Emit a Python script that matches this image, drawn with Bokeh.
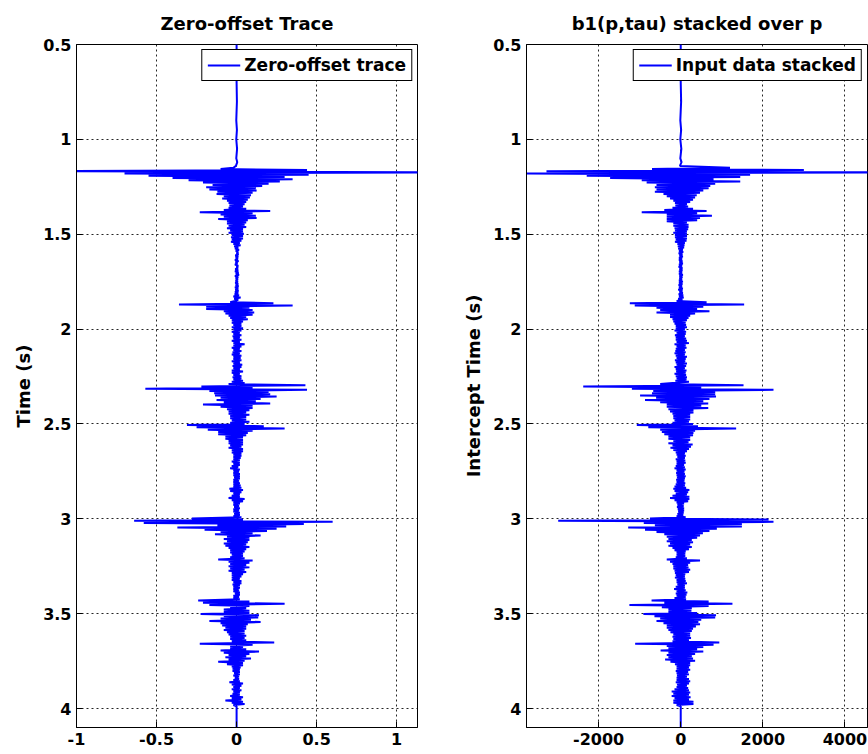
import numpy as np
from bokeh.plotting import figure
from bokeh.layouts import row
from bokeh.models import Range1d, FixedTicker, Legend, LegendItem
from bokeh.embed import file_html
from bokeh.resources import INLINE

# ---------------- data ----------------
SAMPLE_START = 1.150   # s, first sample of the listed amplitudes
SAMPLE_STEP = 0.006    # s, sampling interval

LEAD_TIME = [0.50, 0.70, 0.80, 0.90, 0.95, 1.00, 1.05, 1.10, 1.12, 1.14]
LEFT_LEAD = [0.0, 0.0, 0.002, -0.002, 0.002, -0.002, 0.003, -0.002, 0.004, -0.004]
RIGHT_LEAD = [0, 0, 10, -10, 10, -10, 15, -10, 20, -20]
TAIL_TIME = [4.10]
LEFT_TAIL = [0.0]
RIGHT_TAIL = [0]

LEFT_AMP = [
    -0.02, -0.10, 0.44, -1.20, 1.30, -0.70, 0.45, -0.55, 0.30, -0.40,
    0.35, -0.30, 0.27, -0.21, 0.20, -0.15, 0.16, -0.19, 0.12, -0.17,
    0.125, -0.12, 0.10, -0.125, 0.09, -0.08, 0.083, -0.09, 0.07, -0.06,
    0.06, -0.05, 0.05, -0.045, 0.04, -0.05, 0.06, -0.08, 0.21, -0.23,
    0.10, -0.10, 0.12, -0.08, 0.125, -0.115, 0.07, -0.06, 0.06, -0.06,
    0.05, -0.05, 0.06, -0.06, 0.04, -0.04, 0.04, -0.05, 0.045, -0.03,
    0.04, -0.035, 0.04, -0.03, 0.03, -0.035, 0.02, -0.02, 0.025, -0.015,
    0.01, -0.01, 0.015, -0.005, 0.01, 0.0, 0.012, -0.008, 0.01, -0.005,
    0.008, -0.01, 0.012, -0.006, 0.005, -0.01, 0.01, 0.0, 0.008, -0.008,
    0.01, -0.01, 0.012, -0.005, 0.015, -0.01, 0.01, -0.005, 0.008, -0.006,
    0.008, -0.008, 0.01, -0.006, 0.012, -0.01, 0.01, -0.008, 0.012, -0.01,
    0.01, -0.012, 0.015, -0.02, 0.025, -0.015, 0.01, -0.01, -0.04, 0.23,
    -0.36, 0.35, -0.19, 0.08, -0.19, 0.10, -0.08, 0.11, -0.07, 0.10,
    -0.05, 0.06, -0.04, 0.07, -0.03, 0.04, -0.03, 0.03, -0.02, 0.03,
    -0.03, 0.04, -0.02, 0.03, -0.03, 0.02, -0.02, 0.03, -0.025, 0.02,
    -0.02, 0.03, -0.03, 0.02, -0.02, 0.05, -0.02, 0.03, -0.03, 0.02,
    -0.02, 0.03, -0.025, 0.02, -0.03, 0.03, -0.02, 0.025, -0.02, 0.03,
    -0.03, 0.02, -0.02, 0.035, -0.025, 0.03, -0.02, 0.02, -0.03, 0.04,
    -0.03, 0.02, -0.02, 0.03, -0.025, 0.03, -0.02, 0.04, -0.03, 0.05,
    -0.05, 0.43, -0.22, 0.10, -0.57, 0.44, -0.17, 0.20, -0.14, 0.21,
    -0.135, 0.25, -0.10, 0.15, -0.125, 0.12, -0.08, 0.21, -0.21, 0.10,
    -0.10, 0.10, -0.06, 0.08, -0.05, 0.06, -0.05, 0.08, -0.04, 0.06,
    -0.04, 0.06, -0.03, 0.08, -0.04, 0.05, -0.31, 0.17, -0.25, 0.30,
    -0.18, 0.10, -0.115, 0.07, -0.115, 0.06, -0.07, 0.04, -0.07, 0.04,
    -0.05, 0.04, -0.05, 0.04, -0.04, 0.03, -0.05, 0.04, -0.03, 0.04,
    -0.03, 0.03, -0.02, 0.03, -0.02, 0.025, -0.02, 0.02, -0.03, 0.02,
    -0.02, 0.02, -0.03, 0.01, -0.04, 0.02, -0.02, 0.015, -0.02, 0.02,
    -0.02, 0.02, -0.015, 0.02, -0.02, 0.015, -0.02, 0.02, -0.02, 0.025,
    -0.02, 0.03, -0.045, 0.04, -0.04, 0.03, -0.02, 0.02, -0.03, 0.02,
    -0.05, 0.05, -0.03, 0.04, -0.02, 0.02, -0.02, 0.015, -0.015, 0.02,
    -0.02, 0.015, -0.02, 0.02, -0.015, 0.02, -0.02, 0.03, -0.28, 0.04,
    -0.64, 0.60, -0.58, 0.42, -0.12, 0.31, -0.37, 0.25, -0.20, 0.19,
    -0.10, 0.10, -0.135, 0.15, -0.06, 0.08, -0.08, 0.08, -0.06, 0.07,
    -0.08, 0.06, -0.07, 0.08, -0.05, 0.06, -0.04, 0.05, -0.04, 0.04,
    -0.03, 0.04, -0.04, 0.05, -0.115, 0.10, -0.05, 0.08, -0.04, 0.06,
    -0.05, 0.08, -0.04, 0.05, -0.05, 0.06, -0.03, 0.04, -0.03, 0.03,
    -0.03, 0.02, -0.03, 0.03, -0.02, 0.03, -0.025, 0.02, -0.02, 0.02,
    -0.02, 0.015, -0.02, 0.02, -0.01, 0.02, -0.02, 0.015, -0.02, 0.02,
    -0.24, 0.08, -0.21, 0.30, -0.17, 0.08, -0.04, 0.06, -0.08, 0.08,
    -0.08, 0.08, -0.225, 0.14, -0.08, 0.135, -0.10, 0.09, -0.17, 0.15,
    -0.10, 0.07, -0.09, 0.06, -0.07, 0.06, -0.08, 0.05, -0.06, 0.05,
    -0.05, 0.06, -0.04, 0.05, -0.04, 0.06, -0.03, 0.235, -0.23, 0.10,
    -0.04, 0.04, -0.04, 0.06, -0.10, 0.14, -0.08, 0.08, -0.05, 0.06,
    -0.07, 0.09, -0.05, 0.05, -0.115, 0.04, -0.06, 0.04, -0.03, 0.025,
    -0.025, 0.02, -0.025, 0.02, -0.015, 0.02, -0.02, 0.015, -0.01, 0.015,
    -0.02, 0.02, -0.045, 0.04, -0.03, 0.03, -0.02, 0.02, -0.03, 0.03,
    -0.02, 0.02, -0.025, 0.02, -0.04, 0.04, -0.03, 0.03, -0.07, 0.04,
    -0.03, 0.05, -0.02, 0.0, 0.0, 0.0, 0.0, 0.0, 0.0, 0.0,
]

RIGHT_AMP = [
    1200, -700, 3000, -3270, 4800, -3900, 1690, -2290, 1450, -1720,
    800, -950, 1450, -830, 840, -590, 720, -630, 680, -590,
    550, -630, 470, -420, 390, -340, 350, -260, 300, -180,
    230, -140, 150, -130, 180, -200, 300, -400, 630, -950,
    400, -340, 760, -340, 470, -340, 400, -340, 150, -180,
    190, -180, 190, -150, 180, -140, 150, -180, 150, -140,
    150, -140, 150, -120, 140, -140, 100, -80, 90, -70,
    80, -60, 50, -40, 60, -50, 40, -30, 50, -40,
    30, -40, 40, -30, 50, -40, 30, -50, 40, -30,
    40, -40, 30, -40, 50, -30, 40, -30, 30, -40,
    50, -40, 40, -50, 30, -40, 50, -60, 40, -30,
    50, -50, 60, -40, 70, -60, 40, -100, 630, -1240,
    1545, -1120, 550, -590, 400, -500, 700, -590, 350, -260,
    230, -260, 190, -200, 150, -180, 120, -150, 130, -120,
    150, -120, 100, -150, 130, -100, 120, -140, 100, -120,
    130, -120, 150, -100, 200, -150, 120, -100, 140, -120,
    100, -130, 120, -150, 100, -120, 150, -100, 120, -140,
    110, -120, 150, -100, 130, -150, 100, -120, 140, -110,
    120, -150, 130, -120, 150, -100, 140, -130, 200, -200,
    -500, 1530, -2375, 500, -1190, 2260, -670, 840, -700, 840,
    -990, 860, -600, 700, -870, 550, -500, 670, -340, 500,
    -340, 670, -300, 310, -260, 310, -200, 230, -180, 230,
    -180, 230, -150, 200, -200, 300, -1070, 420, -790, 1350,
    -500, 350, -460, 310, -400, 300, -300, 230, -300, 230,
    -180, 190, -300, 290, -200, 250, -250, 200, -180, 150,
    -120, 100, -100, 120, -80, 100, -120, 110, -100, 120,
    -100, 80, -120, 100, -150, 120, -100, 90, -110, 100,
    -100, 120, -90, 100, -110, 90, -100, 110, -120, 100,
    -150, 130, -180, 210, -150, 180, -120, 150, -200, 210,
    -260, 210, -150, 180, -100, 80, -80, 70, -90, 80,
    -70, 80, -60, 70, -80, 60, -100, 120, -750, 2140,
    -2985, 2260, -900, 1490, -630, 1490, -1280, 880, -870, 700,
    -590, 540, -400, 470, -340, 400, -300, 270, -340, 300,
    -260, 230, -300, 270, -200, 200, -150, 120, -100, 110,
    -100, 110, -120, 150, -340, 470, -260, 230, -200, 180,
    -180, 190, -180, 230, -150, 200, -140, 110, -120, 100,
    -140, 110, -100, 120, -100, 150, -80, 100, -120, 100,
    -160, 120, -100, 160, -120, 140, -100, 120, -150, 130,
    -710, 680, -400, 1260, -1250, 680, -460, 270, -300, 260,
    -300, 400, -910, 860, -640, 840, -500, 500, -590, 430,
    -420, 470, -340, 370, -340, 300, -300, 270, -250, 230,
    -180, 230, -200, 250, -180, 200, -200, 940, -1110, 800,
    -340, 550, -300, 400, -490, 550, -300, 350, -340, 270,
    -300, 300, -380, 350, -250, 230, -140, 230, -100, 200,
    -100, 230, -120, 180, -100, 200, -90, 150, -100, 200,
    -100, 230, -120, 200, -90, 150, -100, 180, -150, 200,
    -220, 230, -180, 200, -220, 240, -150, 200, -180, 310,
    -180, 310, -100, 0, 0, 0, 0, 0, 0, 0,
]

Y_TICKS = [0.5, 1, 1.5, 2, 2.5, 3, 3.5, 4]
Y_TICK_LABELS = ["0.5", "1", "1.5", "2", "2.5", "3", "3.5", "4"]
LEFT_X_TICKS = [-1, -0.5, 0, 0.5, 1]
LEFT_X_TICK_LABELS = ["-1", "-0.5", "0", "0.5", "1"]
RIGHT_X_TICKS = [-2000, 0, 2000, 4000]
RIGHT_X_TICK_LABELS = ["-2000", "0", "2000", "4000"]

FONT = "DejaVu Sans"


def trace(lead, amps, tail):
    t = np.concatenate([LEAD_TIME,
                        SAMPLE_START + SAMPLE_STEP * np.arange(len(amps)),
                        TAIL_TIME])
    a = np.concatenate([lead, amps, tail])
    return a, t


def panel(title, ylabel, amps, xr, xticks, xlabels, legend_label,
          width, border_left, border_right):
    p = figure(width=width, height=754,
               x_range=Range1d(*xr), y_range=Range1d(4.1, 0.5),
               output_backend="svg", toolbar_location=None,
               min_border_left=border_left, min_border_right=border_right,
               min_border_top=44, min_border_bottom=27,
               title=title)
    p.title.text_font = FONT
    p.title.text_font_size = "18px"
    p.title.text_font_style = "bold"
    p.title.align = "center"
    p.title.text_color = "black"
    p.title.standoff = 21

    x, y = amps
    r = p.line(x=x, y=y, line_color="#0000FF", line_width=2)

    p.xaxis.ticker = FixedTicker(ticks=xticks)
    p.xaxis.major_label_overrides = dict(zip(xticks, xlabels))
    p.yaxis.ticker = FixedTicker(ticks=Y_TICKS)
    p.yaxis.major_label_overrides = dict(zip(Y_TICKS, Y_TICK_LABELS))
    p.yaxis.axis_label = ylabel
    for ax in (p.xaxis[0], p.yaxis[0]):
        ax.major_label_text_font = FONT
        ax.major_label_text_font_size = "16px"
        ax.major_label_text_font_style = "bold"
        ax.major_label_text_color = "black"
        ax.major_tick_in = 6
        ax.major_tick_out = 0
        ax.minor_tick_in = 0
        ax.minor_tick_out = 0
        ax.major_label_standoff = 5
        ax.axis_line_color = "black"
        ax.major_tick_line_color = "black"
        ax.axis_label_text_font = FONT
        ax.axis_label_text_font_size = "18px"
        ax.axis_label_text_font_style = "bold"
        ax.axis_label_text_color = "black"
        ax.axis_label_standoff = 6

    for g in (p.xgrid[0], p.ygrid[0]):
        g.grid_line_color = "black"
        g.grid_line_dash = "2 3"
        g.grid_line_alpha = 0.85
        g.grid_line_width = 1
    p.xgrid.ticker = FixedTicker(ticks=xticks)
    p.ygrid.ticker = FixedTicker(ticks=Y_TICKS)

    p.outline_line_color = "black"
    p.outline_line_alpha = 1
    p.outline_line_width = 1
    p.background_fill_color = "white"

    legend = Legend(items=[LegendItem(label=legend_label, renderers=[r])],
                    location="top_right")
    legend.label_text_font = FONT
    legend.label_text_font_size = "17px"
    legend.label_text_font_style = "bold"
    legend.label_text_color = "black"
    legend.border_line_color = "black"
    legend.border_line_width = 1
    legend.border_line_alpha = 1
    legend.background_fill_color = "white"
    legend.background_fill_alpha = 1
    legend.glyph_width = 33
    legend.label_standoff = 4
    legend.padding = 5
    legend.margin = 5
    p.add_layout(legend)
    return p


p1 = panel("Zero-offset Trace", "Time (s)",
           trace(LEFT_LEAD, LEFT_AMP, LEFT_TAIL), (-1.0, 1.13),
           LEFT_X_TICKS, LEFT_X_TICK_LABELS, "Zero-offset trace",
           440, 76, 23)
p2 = panel("b1(p,tau) stacked over p", "Intercept Time (s)",
           trace(RIGHT_LEAD, RIGHT_AMP, RIGHT_TAIL), (-3757, 4550),
           RIGHT_X_TICKS, RIGHT_X_TICK_LABELS, "Input data stacked",
           428, 86, 1)

layout = row(p1, p2)
open("out.html", "w").write(file_html(layout, INLINE))
